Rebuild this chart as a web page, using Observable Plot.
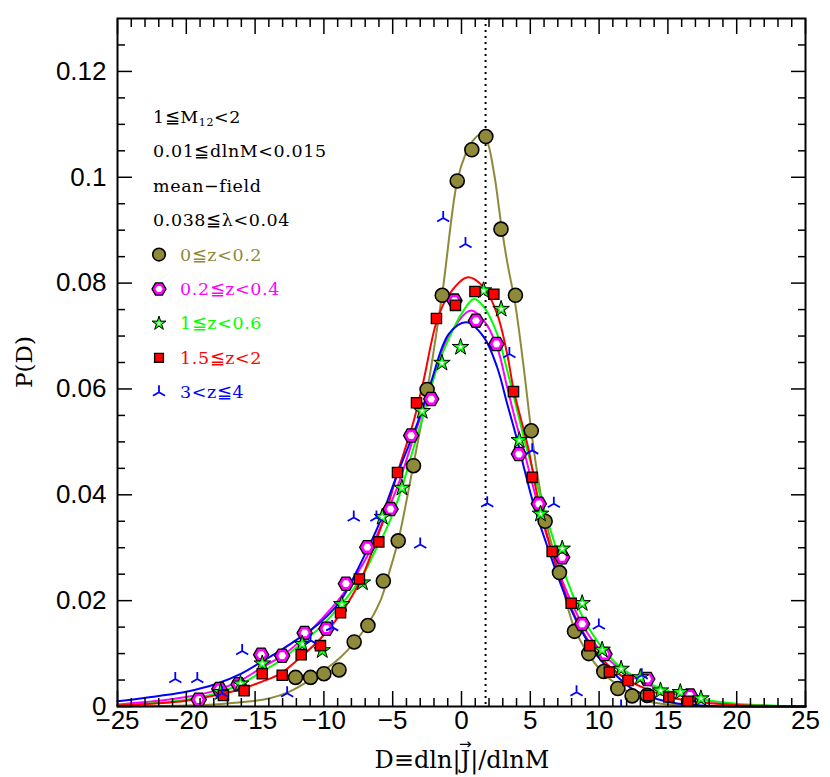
<!DOCTYPE html>
<html>
<head>
<meta charset="utf-8">
<script src="https://cdn.jsdelivr.net/npm/d3@7"></script>
<script src="https://cdn.jsdelivr.net/npm/@observablehq/plot@0.6"></script>
<style>
html,body{margin:0;padding:0;background:#fff;}
#chart svg{display:block;}
</style>
</head>
<body>
<div id="chart"></div>
<script>
// ---------- tick labels ----------
const xTicks = [-25, -20, -15, -10, -5, 0, 5, 10, 15, 20, 25];
const yTicks = [0, 0.02, 0.04, 0.06, 0.08, 0.1, 0.12];
const xMinorTicks = d3.range(-25, 26, 1).filter(v => v % 5 !== 0);
const yMinorTicks = d3.range(0, 26).map(k => k * 0.005).filter((v, k) => k % 4 !== 0);
const meanLine = [1.75];

// ---------- legend text ----------
const noteLines = ["1≦M{12}<2", "0.01≦dlnM<0.015", "mean−field", "0.038≦λ<0.04"];
const seriesLabels = ["0≦z<0.2", "0.2≦z<0.4", "1≦z<0.6", "1.5≦z<2", "3<z≦4"];
const seriesColors = ["#8e8a3a", "#ff00ff", "#00ff00", "#ff0000", "#0000ff"];
const xTitleParts = ["D≡dln|", "J", "|/dlnM"];

// ---------- measured points [D, P(D)] ----------
const ptsZ0 = [[-12.06,0.0055],[-10.97,0.0055],[-10.0,0.0062],[-8.9,0.0069],[-7.8,0.0122],[-6.8,0.0153],
  [-5.68,0.0237],[-4.6,0.0313],[-3.49,0.0455],[-2.5,0.0599],[-1.4,0.0777],[-0.31,0.0993],[0.75,0.1052],
  [1.77,0.1077],[2.87,0.0902],[3.92,0.0777],[5.07,0.0521],[6.08,0.0350],[7.12,0.0253],[8.21,0.0142],
  [9.25,0.0100],[10.34,0.0066],[11.36,0.0034],[12.4,0.0020],[13.5,0.0021]];
const ptsZ02 = [[-19.1,0.0013],[-17.6,0.0033],[-16.2,0.0042],[-14.56,0.0098],[-13.03,0.0096],[-11.4,0.0139],
  [-9.82,0.0147],[-8.4,0.0232],[-6.85,0.0301],[-5.16,0.0373],[-3.66,0.0512],[-2.2,0.0581],[-0.51,0.0767],
  [1.05,0.0729],[2.54,0.0685],[4.17,0.0477],[5.62,0.0383],[7.32,0.0282],[8.77,0.0156],[10.39,0.0099],
  [13.5,0.0052],[16.6,0.0021]];
const ptsZ1 = [[-17.5,0.0027],[-16.06,0.0043],[-14.48,0.0081],[-11.58,0.0118],[-10.12,0.0106],[-8.7,0.0193],
  [-7.2,0.0234],[-5.76,0.0358],[-4.33,0.0413],[-2.86,0.0558],[-1.42,0.0649],[-0.07,0.0679],[1.6,0.0786],
  [2.88,0.0751],[4.2,0.0503],[5.74,0.0364],[7.32,0.0298],[8.77,0.0195],[10.22,0.0107],[11.6,0.0071],
  [13.0,0.0055],[14.46,0.0030],[15.9,0.0027],[17.4,0.0015]];
const ptsZ15 = [[-17.3,0.0021],[-15.8,0.0030],[-14.48,0.0062],[-13.03,0.0059],[-11.65,0.0098],[-10.25,0.0115],
  [-8.79,0.0177],[-7.42,0.0241],[-6.01,0.0311],[-4.65,0.0442],[-3.27,0.0574],[-1.82,0.0733],[-0.44,0.0758],
  [0.98,0.0784],[2.35,0.0779],[3.78,0.0595],[5.14,0.0433],[6.59,0.0293],[7.97,0.0195],[9.32,0.0115],
  [10.75,0.0065],[12.1,0.0049],[13.6,0.0021],[15.07,0.0018],[16.45,0.0010]];
const ptsZ3 = [[-20.8,0.0052],[-19.2,0.0052],[-17.4,0.0025],[-15.94,0.0105],[-12.67,0.0025],[-10.97,0.0125],
  [-9.4,0.0150],[-7.83,0.0357],[-6.18,0.0357],[-3.0,0.0306],[-1.33,0.0923],[0.29,0.0874],[1.87,0.0384],
  [3.48,0.0666],[5.14,0.0484],[6.71,0.0383],[8.36,0.0027],[9.98,0.0153],[11.6,0.0],[13.1,0.0059]];

// ---------- fitted curves [D, P(D)] ----------
const fitZ0 = [[-25,0],[-22,0.0001],[-20,0.0002],[-18,0.0004],[-16,0.0008],[-14,0.0015],[-12.5,0.0028],
  [-10.73,0.0055],[-8.79,0.0093],[-7.1,0.0144],[-5.89,0.0200],[-5.28,0.0251],[-4.56,0.0318],[-3.51,0.0455],
  [-2.5,0.0595],[-1.4,0.0780],[-0.31,0.0993],[0.3,0.1044],[0.8,0.1068],[1.3,0.1080],[1.8,0.1071],
  [2.35,0.1010],[2.88,0.0912],[3.32,0.0840],[3.92,0.0758],[4.5,0.0645],[5.05,0.0525],[5.5,0.0442],
  [6.08,0.0357],[7.1,0.0252],[8.2,0.0148],[9.25,0.0098],[10.34,0.0062],[11.55,0.0037],[12.6,0.0020],
  [13.7,0.0009],[15,0.0004],[17,0.0001],[20,0],[25,0]];
const fitZ02 = [[-25,0.0004],[-22,0.0011],[-20,0.0018],[-17.9,0.0030],[-16,0.0050],[-14.5,0.0074],
  [-13.15,0.0094],[-11.7,0.0124],[-10.25,0.0163],[-8.79,0.0206],[-7.1,0.0272],[-5.89,0.0339],[-4.67,0.0414],
  [-3.47,0.0509],[-2.25,0.0603],[-0.92,0.0700],[0.65,0.0748],[1.62,0.0729],[2.59,0.0679],[3.32,0.0603],
  [4.05,0.0528],[4.53,0.0484],[5.26,0.0410],[6.47,0.0300],[7.68,0.0215],[8.89,0.0150],[10.1,0.0105],
  [11.3,0.0075],[12.5,0.0055],[14.95,0.0028],[17.4,0.0013],[20,0.0004],[25,0]];
const fitZ1 = [[-25,0.0002],[-22,0.0007],[-20,0.0013],[-17.9,0.0024],[-16,0.0043],[-14.5,0.0066],
  [-13.15,0.0087],[-11.7,0.0118],[-10.25,0.0150],[-8.79,0.0191],[-7.1,0.0251],[-6.37,0.0289],[-5.4,0.0339],
  [-4.43,0.0405],[-3.7,0.0470],[-2.74,0.0553],[-1.77,0.0641],[-0.92,0.0695],[0,0.0742],[0.9,0.0770],
  [1.62,0.0755],[2.59,0.0704],[3.32,0.0635],[4.05,0.0559],[4.65,0.0496],[5.26,0.0440],[6.47,0.0333],
  [7.68,0.0238],[8.89,0.0165],[10.1,0.0115],[11.3,0.0080],[12.5,0.0058],[14.95,0.0030],[17.4,0.0014],
  [20,0.0005],[25,0]];
const fitZ15 = [[-25,0.0002],[-22,0.0006],[-20,0.0011],[-17.9,0.0021],[-16,0.0033],[-14.5,0.0047],
  [-13.15,0.0062],[-11.7,0.0093],[-10.25,0.0128],[-8.79,0.0175],[-7.34,0.0238],[-6.37,0.0302],[-5.52,0.0364],
  [-4.67,0.0440],[-3.47,0.0540],[-2.74,0.0618],[-1.8,0.0728],[-0.92,0.0778],[0.46,0.0811],[1.62,0.0792],
  [2.59,0.0742],[3.32,0.0666],[3.8,0.0597],[4.53,0.0522],[4.89,0.0484],[5.5,0.0400],[6.47,0.0300],
  [7.68,0.0205],[8.89,0.0138],[10.1,0.0093],[11.3,0.0064],[12.5,0.0044],[14.95,0.0019],[17.4,0.0008],
  [20,0.0003],[25,0]];
const fitZ3 = [[-25,0.0010],[-22,0.0020],[-20,0.0028],[-17.9,0.0042],[-16,0.0062],[-14.5,0.0085],
  [-13.15,0.0106],[-11.7,0.0131],[-10.25,0.0159],[-8.79,0.0200],[-7.34,0.0270],[-5.89,0.0351],[-5.28,0.0396],
  [-4.56,0.0446],[-3.22,0.0534],[-2.25,0.0610],[-0.92,0.0704],[0.36,0.0726],[1.62,0.0698],[2.59,0.0641],
  [3.32,0.0572],[4.05,0.0503],[4.6,0.0445],[5.26,0.0380],[6.47,0.0285],[7.68,0.0200],[8.89,0.0135],
  [10.1,0.0088],[11.3,0.0057],[12.5,0.0032],[14.95,0.0009],[17.4,0.0002],[20,0],[25,0]];

// ---------- symbols ----------
const hexagon = {draw(ctx, size) {
  const r = Math.sqrt(size / Math.PI);
  for (let k = 0; k < 6; k++) {
    const a = k * Math.PI / 3, px = r * Math.cos(a), py = r * Math.sin(a);
    if (k) ctx.lineTo(px, py); else ctx.moveTo(px, py);
  }
  ctx.closePath();
}};
const tri = {draw(ctx, size) {
  const r = Math.sqrt(size / Math.PI);
  ctx.moveTo(0, 0); ctx.lineTo(0, -r);
  ctx.moveTo(0, 0); ctx.lineTo(-r * 0.866, r * 0.5);
  ctx.moveTo(0, 0); ctx.lineTo(r * 0.866, r * 0.5);
}};

const fx = d => d[0], fy = d => d[1];
const tickFont = "Liberation Sans, Arial, sans-serif";
const serif = "DejaVu Serif, serif";
const fmtX = d => d < 0 ? "−" + (-d) : String(d);
const fmtY = d => String(+d.toFixed(2));
const fits = [fitZ0, fitZ02, fitZ1, fitZ15, fitZ3];

const plot = Plot.plot({
  width: 830, height: 777,
  marginLeft: 117, marginRight: 25, marginTop: 18, marginBottom: 71,
  x: {domain: [-25, 25]},
  y: {domain: [0, 0.13]},
  style: {fontFamily: tickFont, background: "#fff"},
  marks: [
    ...fits.map((f, i) => Plot.line(f, {x: fx, y: fy, stroke: seriesColors[i], strokeWidth: 2, curve: "catmull-rom"})),
    Plot.ruleX(meanLine, {stroke: "black", strokeWidth: 2, strokeDasharray: "2,4"}),
    Plot.dot(ptsZ0, {x: fx, y: fy, symbol: "circle", r: 7, fill: seriesColors[0], stroke: "black", strokeWidth: 1.6}),
    Plot.dot(ptsZ02, {x: fx, y: fy, symbol: hexagon, r: 7.6, fill: seriesColors[1], stroke: "black", strokeWidth: 1.3}),
    Plot.dot(ptsZ02, {x: fx, y: fy, symbol: hexagon, r: 3.9, fill: "white", stroke: "none"}),
    Plot.dot(ptsZ1, {x: fx, y: fy, symbol: "star", r: 5.2, fill: seriesColors[2], stroke: "black", strokeWidth: 1}),
    Plot.dot(ptsZ1, {x: fx, y: fy, symbol: "star", r: 1.8, fill: "white", stroke: "none"}),
    Plot.dot(ptsZ15, {x: fx, y: fy, symbol: "square", r: 5.8, fill: seriesColors[3], stroke: "black", strokeWidth: 1.3}),
    Plot.dot(ptsZ3, {x: fx, y: fy, symbol: tri, r: 7, fill: "none", stroke: seriesColors[4], strokeWidth: 1.8, clip: true}),
    // axes: inward ticks on all four sides
    Plot.axisX(xMinorTicks, {anchor: "bottom", tickSize: -8, tickFormat: () => "", label: null, strokeWidth: 1.5}),
    Plot.axisX(xMinorTicks, {anchor: "top", tickSize: -8, tickFormat: () => "", label: null, strokeWidth: 1.5}),
    Plot.axisX(xTicks, {anchor: "top", tickSize: -15, tickFormat: () => "", label: null, strokeWidth: 1.5}),
    Plot.axisX(xTicks, {anchor: "bottom", tickSize: -15, tickPadding: 19, tickFormat: fmtX, label: null,
      fontSize: 26, fontFamily: tickFont, fill: "black", strokeWidth: 1.5}),
    Plot.axisY(yMinorTicks, {anchor: "left", tickSize: -8, tickFormat: () => "", label: null, strokeWidth: 1.5}),
    Plot.axisY(yMinorTicks, {anchor: "right", tickSize: -8, tickFormat: () => "", label: null, strokeWidth: 1.5}),
    Plot.axisY(yTicks, {anchor: "right", tickSize: -15, tickFormat: () => "", label: null, strokeWidth: 1.5}),
    Plot.axisY(yTicks, {anchor: "left", tickSize: -15, tickPadding: 26, tickFormat: fmtY, label: null,
      fontSize: 26, fontFamily: tickFont, fill: "black", strokeWidth: 1.5}),
    Plot.frame({stroke: "black", strokeWidth: 2})
  ]
});
document.getElementById("chart").append(plot);

// ---------- legend & axis titles ----------
const svg = d3.select(plot);
const lg = svg.append("g").attr("font-family", serif).attr("font-size", 17.5)
  .attr("letter-spacing", 0.6).attr("text-anchor", "start");
const noteY0 = 117, rowStep = 34.4;
noteLines.forEach((s, i) => {
  const t = lg.append("text").attr("x", 153).attr("y", noteY0 + i * rowStep)
    .attr("dominant-baseline", "central").attr("fill", "black");
  const m = s.match(/^(.*)\{(.*)\}(.*)$/);
  if (m) {
    t.append("tspan").text(m[1]);
    t.append("tspan").attr("font-size", 11).attr("dy", 5).text(m[2]);
    t.append("tspan").attr("dy", -5).text(m[3]);
  } else t.text(s);
});
const legendSym = [
  {type: d3.symbolCircle, r: 6.3, fill: seriesColors[0], stroke: "black", sw: 1.6},
  {type: hexagon, r: 7.0, fill: seriesColors[1], stroke: "black", sw: 1.3, inner: 3.6},
  {type: d3.symbolStar, r: 4.4, fill: seriesColors[2], stroke: "black", sw: 1, innerStar: 1.6},
  {type: d3.symbolSquare, r: 5.0, fill: seriesColors[3], stroke: "black", sw: 1.3},
  {type: tri, r: 7, fill: "none", stroke: seriesColors[4], sw: 1.8}
];
seriesLabels.forEach((s, i) => {
  const y = noteY0 + (i + 4) * rowStep;
  const sym = legendSym[i];
  lg.append("path").attr("transform", `translate(159,${y})`)
    .attr("d", d3.symbol().type(sym.type).size(Math.PI * sym.r * sym.r)())
    .attr("fill", sym.fill).attr("stroke", sym.stroke).attr("stroke-width", sym.sw);
  if (sym.inner) lg.append("path").attr("transform", `translate(159,${y})`)
    .attr("d", d3.symbol().type(hexagon).size(Math.PI * sym.inner * sym.inner)()).attr("fill", "white");
  if (sym.innerStar) lg.append("path").attr("transform", `translate(159,${y})`)
    .attr("d", d3.symbol().type(d3.symbolStar).size(Math.PI * sym.innerStar * sym.innerStar)()).attr("fill", "white");
  lg.append("text").attr("x", 180).attr("y", y).attr("dominant-baseline", "central")
    .attr("fill", seriesColors[i]).text(s);
});

// y title
svg.append("text").attr("transform", "translate(24,362) rotate(-90)")
  .attr("text-anchor", "middle").attr("dominant-baseline", "central")
  .attr("font-family", serif).attr("font-size", 23).attr("fill", "black").text("P(D)");

// x title with vector arrow over J (one text element, arrow as a raised tspan)
const xt = svg.append("text").attr("x", 462).attr("y", 768).attr("text-anchor", "middle")
  .attr("font-family", serif).attr("font-size", 24).attr("fill", "black").text(xTitleParts.join(""));
let jMid = null, jEnd = null;
try {
  const e = xt.node().getExtentOfChar(xTitleParts[0].length);
  jMid = e.x + e.width / 2; jEnd = e.x + e.width;
} catch (err) {}
if (jMid !== null) {
  const x0 = xt.node().getExtentOfChar(0).x;
  xt.text(null).attr("text-anchor", "start").attr("x", x0);
  xt.append("tspan").text(xTitleParts[0] + xTitleParts[1]);
  xt.append("tspan").attr("x", jMid).attr("dy", -19).attr("text-anchor", "middle")
    .attr("font-family", "DejaVu Sans, sans-serif").attr("font-size", 15).text("→");
  xt.append("tspan").attr("x", jEnd).attr("dy", 19).attr("text-anchor", "start").text(xTitleParts[2]);
}
</script>
</body>
</html>
